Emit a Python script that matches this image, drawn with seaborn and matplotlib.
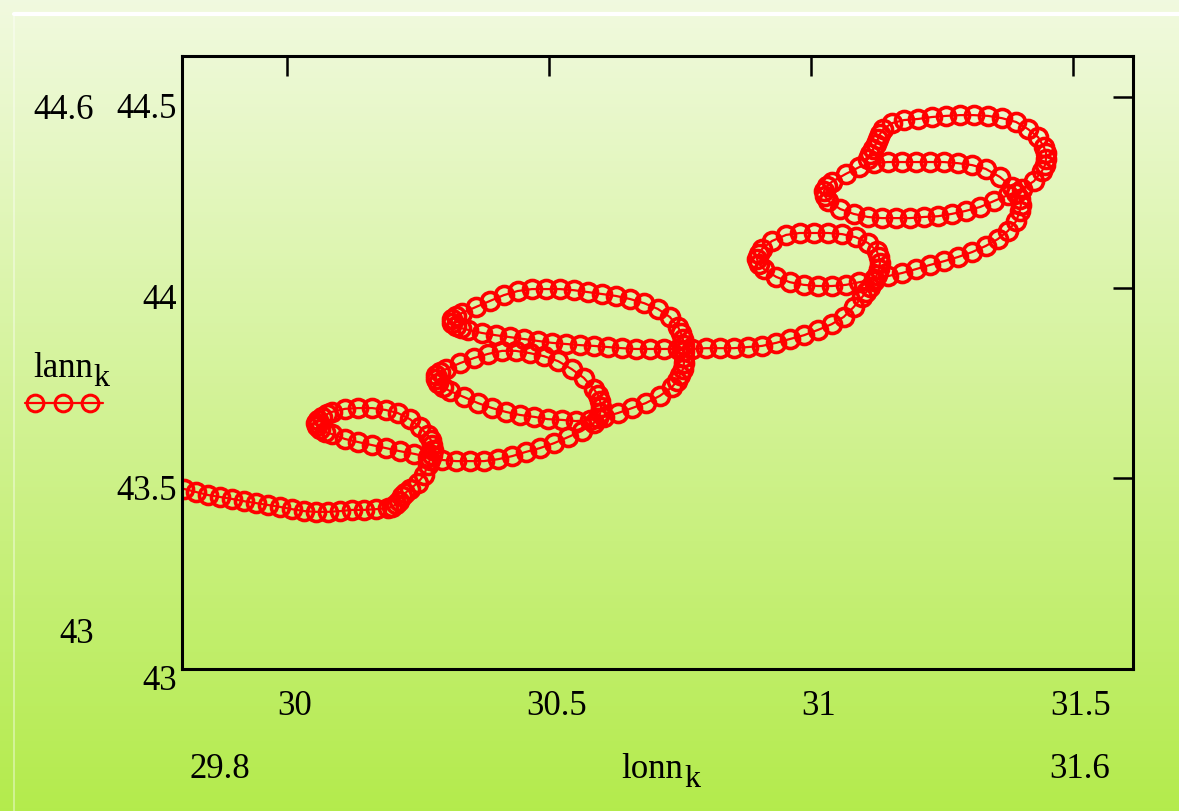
import numpy as np
import matplotlib
matplotlib.use("Agg")
import matplotlib.pyplot as plt
import matplotlib.transforms as mtransforms
from matplotlib.lines import Line2D
import seaborn as sns

# Drifter track: longitude / latitude of each fix k
lonn_k = [
    # westward tail and first climb
    29.804, 29.827, 29.850, 29.873, 29.895, 29.918, 29.941, 29.964, 29.987, 30.010,
    30.033, 30.056, 30.079, 30.102, 30.124, 30.147, 30.170, 30.193, 30.201, 30.208,
    30.214, 30.220, 30.226, 30.235, 30.250, 30.262,
    # first small loop
    30.269, 30.273, 30.277, 30.279, 30.277, 30.275, 30.269, 30.254, 30.235, 30.212,
    30.189, 30.163, 30.136, 30.111, 30.086, 30.077, 30.067, 30.060, 30.056, 30.058,
    30.063, 30.073, 30.086, 30.111, 30.136, 30.163, 30.189, 30.216, 30.243, 30.269,
    # eastward run and lower middle loop
    30.296, 30.323, 30.350, 30.376, 30.403, 30.430, 30.456, 30.483, 30.510, 30.537,
    30.563, 30.586, 30.594, 30.598, 30.600, 30.598, 30.594, 30.586, 30.567, 30.544,
    30.518, 30.491, 30.464, 30.437, 30.411, 30.384, 30.357, 30.331, 30.304, 30.292,
    30.285, 30.285, 30.289, 30.298, 30.311, 30.338, 30.365, 30.392, 30.418, 30.445,
    30.472, 30.498, 30.525, 30.552, 30.579, 30.605, 30.632, 30.659, 30.685, 30.712,
    # upper middle loop
    30.735, 30.745, 30.750, 30.756, 30.758, 30.758, 30.758, 30.758, 30.756, 30.752,
    30.747, 30.731, 30.708, 30.682, 30.655, 30.628, 30.602, 30.575, 30.548, 30.521,
    30.495, 30.468, 30.441, 30.414, 30.388, 30.361, 30.334, 30.323, 30.315, 30.315,
    30.323, 30.332, 30.346, 30.372, 30.399, 30.426, 30.453, 30.479, 30.506, 30.533,
    30.560, 30.586, 30.613, 30.640, 30.666, 30.693, 30.720, 30.747, 30.773,
    # eastward run and third loop
    30.800, 30.827, 30.853, 30.880, 30.907, 30.934, 30.960, 30.987, 31.014, 31.040,
    31.063, 31.082, 31.098, 31.106, 31.113, 31.120, 31.126, 31.130, 31.132, 31.130,
    31.126, 31.109, 31.086, 31.060, 31.033, 31.006, 30.979, 30.953, 30.926, 30.907,
    30.901, 30.897, 30.901, 30.911, 30.934, 30.960, 30.987, 31.014, 31.040, 31.067,
    31.093, 31.120,
    # north-eastward run and fourth loop
    31.147, 31.174, 31.200, 31.227, 31.254, 31.281, 31.308, 31.334, 31.357, 31.376,
    31.392, 31.399, 31.401, 31.399, 31.392, 31.384, 31.361, 31.334, 31.308, 31.281,
    31.254, 31.227, 31.200, 31.174, 31.147, 31.120, 31.093, 31.067, 31.040, 31.031,
    31.025, 31.027, 31.033, 31.056, 31.082, 31.109, 31.136, 31.163, 31.189, 31.216,
    31.243, 31.269, 31.296, 31.323, 31.350, 31.376,
    # last loop
    31.403, 31.426, 31.441, 31.447, 31.449, 31.449, 31.445, 31.434, 31.415, 31.392,
    31.365, 31.338, 31.311, 31.285, 31.258, 31.231, 31.205, 31.178, 31.155, 31.138,
    31.132, 31.128, 31.124, 31.119, 31.113, 31.109,
]
lann_k = [
    43.472, 43.464, 43.456, 43.451, 43.446, 43.440, 43.435, 43.430, 43.425, 43.419,
    43.414, 43.412, 43.412, 43.414, 43.417, 43.417, 43.419, 43.422, 43.425, 43.432,
    43.440, 43.453, 43.461, 43.472, 43.488, 43.509,

    43.535, 43.548, 43.561, 43.574, 43.587, 43.600, 43.613, 43.634, 43.655, 43.671,
    43.679, 43.684, 43.684, 43.682, 43.674, 43.668, 43.661, 43.653, 43.645, 43.637,
    43.629, 43.621, 43.616, 43.603, 43.595, 43.587, 43.579, 43.571, 43.564, 43.556,

    43.548, 43.545, 43.545, 43.545, 43.550, 43.558, 43.569, 43.579, 43.592, 43.608,
    43.624, 43.645, 43.658, 43.671, 43.687, 43.702, 43.718, 43.734, 43.763, 43.786,
    43.807, 43.820, 43.828, 43.834, 43.834, 43.826, 43.815, 43.802, 43.786, 43.779,
    43.771, 43.760, 43.750, 43.739, 43.729, 43.713, 43.697, 43.684, 43.674, 43.666,
    43.661, 43.655, 43.653, 43.650, 43.653, 43.661, 43.671, 43.684, 43.697, 43.716,

    43.739, 43.755, 43.771, 43.786, 43.802, 43.818, 43.834, 43.849, 43.865, 43.881,
    43.896, 43.923, 43.944, 43.959, 43.970, 43.978, 43.983, 43.988, 43.993, 43.996,
    43.996, 43.996, 43.991, 43.980, 43.965, 43.949, 43.933, 43.925, 43.917, 43.907,
    43.899, 43.894, 43.889, 43.881, 43.875, 43.870, 43.865, 43.860, 43.855, 43.852,
    43.849, 43.847, 43.844, 43.841, 43.839, 43.839, 43.839, 43.839, 43.839,

    43.841, 43.841, 43.841, 43.844, 43.847, 43.855, 43.865, 43.875, 43.889, 43.904,
    43.923, 43.949, 43.975, 43.988, 44.001, 44.017, 44.033, 44.048, 44.064, 44.080,
    44.096, 44.117, 44.132, 44.140, 44.143, 44.143, 44.143, 44.138, 44.122, 44.101,
    44.088, 44.075, 44.062, 44.048, 44.028, 44.014, 44.007, 44.004, 44.004, 44.007,
    44.014, 44.022,

    44.030, 44.038, 44.048, 44.059, 44.069, 44.080, 44.093, 44.109, 44.127, 44.148,
    44.174, 44.201, 44.216, 44.232, 44.248, 44.263, 44.290, 44.311, 44.321, 44.326,
    44.329, 44.329, 44.329, 44.329, 44.329, 44.326, 44.316, 44.298, 44.277, 44.266,
    44.253, 44.240, 44.227, 44.206, 44.193, 44.185, 44.182, 44.182, 44.182, 44.185,
    44.187, 44.193, 44.201, 44.211, 44.227, 44.242,

    44.258, 44.279, 44.305, 44.321, 44.337, 44.353, 44.368, 44.394, 44.415, 44.434,
    44.444, 44.450, 44.452, 44.452, 44.450, 44.447, 44.442, 44.439, 44.431, 44.415,
    44.402, 44.389, 44.376, 44.363, 44.350, 44.337,
]

x_ticks = [30.0, 30.5, 31.0, 31.5]
x_tick_labels = ["30", "30.5", "31", "31.5"]
y_ticks = [43.0, 43.5, 44.0, 44.5]
y_tick_labels = ["43", "43.5", "44", "44.5"]
x_range_labels = ["29.8", "31.6"]
y_range_labels = ["43", "44.6"]
x_name, y_name, index_name = "lonn", "lann", "k"

sns.set_theme(style="white")
plt.rcParams["font.family"] = ["Liberation Serif", "DejaVu Serif"]
plt.rcParams["text.color"] = "black"

W, H = 1179, 812
DPI = 100
fig = plt.figure(figsize=(W / DPI, H / DPI), dpi=DPI)


def fx(px):
    return px / W


def fy(py):
    return 1 - py / H


# vertical green gradient behind everything
bg = fig.add_axes([0, 0, 1, 1], zorder=0)
top_c = np.array([0.945, 0.980, 0.875])
bot_c = np.array([0.705, 0.922, 0.300])
t = np.linspace(0, 1, 256)[:, None]
grad = top_c + (bot_c - top_c) * t
bg.imshow(grad[:, None, :], aspect="auto", extent=[0, 1, 0, 1], origin="upper")
bg.set_xlim(0, 1)
bg.set_ylim(0, 1)
bg.axis("off")

# thin frame lines of the panel
fig.add_artist(Line2D([fx(14), 1], [fy(15), fy(15)], color="white", lw=3,
                      transform=fig.transFigure, zorder=1))
fig.add_artist(Line2D([fx(14), fx(14)], [0, fy(15)], color=(1, 1, 1, 0.45), lw=1.2,
                      transform=fig.transFigure, zorder=1))

ax = fig.add_axes([fx(182), fy(670), (1133 - 182) / W, (670 - 57) / H], zorder=2)
ax.patch.set_alpha(0)

MS, MEW, LW = 13, 2.6, 1.6
sns.lineplot(x=lonn_k, y=lann_k, sort=False, estimator=None, ax=ax,
             color="red", lw=LW, marker="o", markersize=MS,
             markerfacecolor="none", markeredgecolor="red", markeredgewidth=MEW)
for ln in ax.lines:
    ln.set_markerfacecolor("none")
    ln.set_markeredgecolor("red")
    ln.set_markeredgewidth(MEW)
    ln.set_color("red")

ax.set_xlim(29.8, 31.615)
ax.set_ylim(43.0, 44.607)
ax.set_xticks(x_ticks, x_tick_labels)
ax.set_yticks(y_ticks, y_tick_labels)
ax.set_xlabel("")
ax.set_ylabel("")
ax.tick_params(axis="both", direction="in", length=14.4, width=1.8, color="black",
               top=True, right=True, labelsize=25, labelcolor="black")
ax.tick_params(axis="x", pad=14.5)
ax.tick_params(axis="y", pad=3.5)
for sp in ax.spines.values():
    sp.set_visible(True)
    sp.set_color("black")
    sp.set_linewidth(2.2)

for lbl in ax.get_xticklabels():
    lbl.set_transform(lbl.get_transform() +
                      mtransforms.ScaledTranslation(8 / DPI, 0, fig.dpi_scale_trans))
for lbl in ax.get_yticklabels():
    lbl.set_transform(lbl.get_transform() +
                      mtransforms.ScaledTranslation(0, -8 / DPI, fig.dpi_scale_trans))

fs = 25
fig.text(fx(64), fy(119), y_range_labels[1], ha="center", va="baseline", fontsize=fs)
fig.text(fx(77), fy(643), y_range_labels[0], ha="center", va="baseline", fontsize=fs)
fig.text(fx(220), fy(778), x_range_labels[0], ha="center", va="baseline", fontsize=fs)
fig.text(fx(1080), fy(778), x_range_labels[1], ha="center", va="baseline", fontsize=fs)

# axis names with lowered index letter
fig.text(fx(621), fy(778), x_name, ha="left", va="baseline", fontsize=fs)
fig.text(fx(684), fy(787), index_name, ha="left", va="baseline", fontsize=23)
fig.text(fx(33), fy(377), y_name, ha="left", va="baseline", fontsize=fs)
fig.text(fx(93), fy(386), index_name, ha="left", va="baseline", fontsize=23)

# series key under the y name
key = Line2D([fx(25), fx(35), fx(63), fx(90), fx(103)], [fy(404)] * 5,
             color="red", lw=LW, marker="o", markersize=12, markevery=[1, 2, 3],
             markerfacecolor="none", markeredgecolor="red", markeredgewidth=2.2,
             transform=fig.transFigure, zorder=3)
fig.add_artist(key)

fig.savefig("out.png", dpi=DPI)
